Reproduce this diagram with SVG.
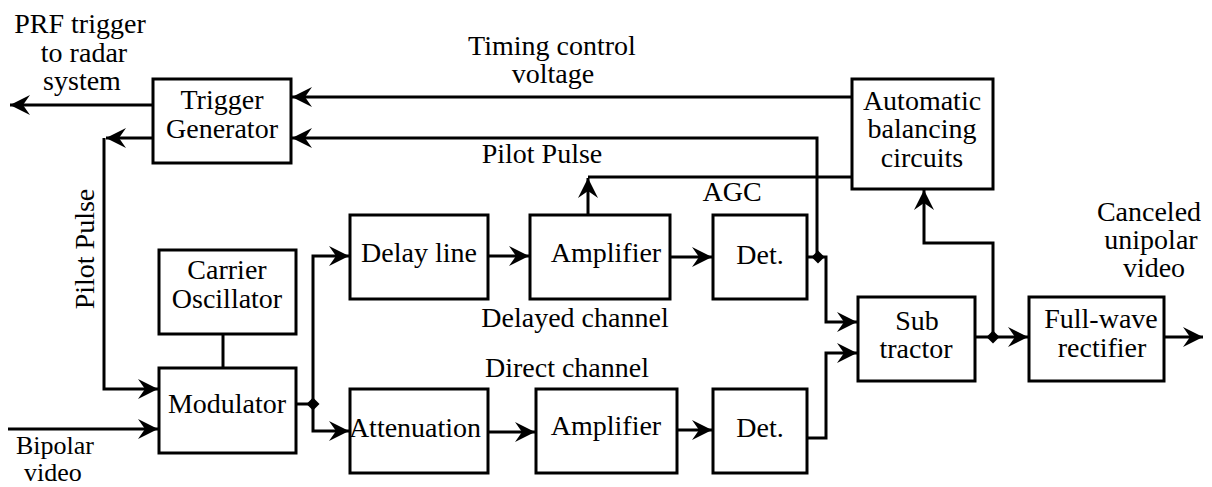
<svg xmlns="http://www.w3.org/2000/svg" width="1212" height="487" viewBox="0 0 1212 487">
<style>
text{font-family:"Liberation Serif","Times New Roman",serif;font-size:28px;fill:#000;text-anchor:middle}
.sm{font-size:26px}
.box{fill:#fff;stroke:#000;stroke-width:3}
.ln{fill:none;stroke:#000;stroke-width:3}
.arr{marker-end:url(#ah)}
</style>
<defs>
<marker id="ah" viewBox="-21 -11 22 22" refX="0" refY="0" markerWidth="22" markerHeight="22" markerUnits="userSpaceOnUse" orient="auto">
<path d="M0,0 L-20,-10 L-13,0 L-20,10 Z" fill="#000"/>
</marker>
<path id="dot" d="M0,-6.5 L6.5,0 L0,6.5 L-6.5,0 Z" fill="#000"/>
</defs>
<rect width="1212" height="487" fill="#fff"/>
<g id="connectors">
<path class="ln arr" d="M153,105 L10,105"/>
<path class="ln arr" d="M153,138 L106,138"/>
<path class="ln arr" d="M104,138 L104,389 L158,389"/>
<path class="ln arr" d="M852,97 L292,97"/>
<path class="ln arr" d="M817,257 L817,138 L292,138"/>
<path class="ln arr" d="M588,215 L588,178"/>
<path class="ln" d="M588,177 L852,177"/>
<path class="ln" d="M223,334 L223,368"/>
<path class="ln arr" d="M8,429 L158,429"/>
<path class="ln" d="M296,404 L313,404"/>
<path class="ln arr" d="M313,404 L313,256 L349,256"/>
<path class="ln arr" d="M313,404 L313,431 L349,431"/>
<path class="ln arr" d="M488,256 L529,256"/>
<path class="ln arr" d="M670,257 L712,257"/>
<path class="ln arr" d="M488,432 L535,432"/>
<path class="ln arr" d="M677,430 L712,430"/>
<path class="ln arr" d="M807,257 L826,257 L826,322 L857,322"/>
<path class="ln arr" d="M807,438 L826,438 L826,353 L857,353"/>
<path class="ln arr" d="M975,337 L1028,337"/>
<path class="ln arr" d="M993,337 L993,243 L924,243 L924,190"/>
<path class="ln arr" d="M1164,337 L1203,337"/>
<use href="#dot" x="313" y="404"/>
<use href="#dot" x="818" y="257"/>
<use href="#dot" x="993" y="337"/>
</g>
<g id="trigger-generator"><rect class="box" x="153" y="79" width="138" height="84"/><text x="222" y="109">Trigger</text><text x="222" y="138">Generator</text></g>
<g id="automatic-balancing"><rect class="box" x="852" y="79" width="141" height="110"/><text x="922" y="110">Automatic</text><text x="922" y="138">balancing</text><text x="922" y="167">circuits</text></g>
<g id="carrier-oscillator"><rect class="box" x="159" y="250" width="137" height="84"/><text x="227" y="279">Carrier</text><text x="227" y="308">Oscillator</text></g>
<g id="modulator"><rect class="box" x="159" y="368" width="137" height="85"/><text x="227" y="413">Modulator</text></g>
<g id="delay-line"><rect class="box" x="350" y="215" width="138" height="84"/><text x="419" y="262">Delay line</text></g>
<g id="amplifier-delayed"><rect class="box" x="530" y="215" width="140" height="84"/><text x="606" y="262">Amplifier</text></g>
<g id="det-delayed"><rect class="box" x="713" y="215" width="94" height="84"/><text x="760" y="264">Det.</text></g>
<g id="attenuation"><rect class="box" x="350" y="389" width="138" height="84"/><text x="415" y="437">Attenuation</text></g>
<g id="amplifier-direct"><rect class="box" x="536" y="389" width="141" height="84"/><text x="606" y="435">Amplifier</text></g>
<g id="det-direct"><rect class="box" x="713" y="389" width="94" height="84"/><text x="760" y="437">Det.</text></g>
<g id="subtractor"><rect class="box" x="858" y="297" width="117" height="84"/><text x="917" y="330">Sub</text><text x="916" y="358">tractor</text></g>
<g id="full-wave-rectifier"><rect class="box" x="1029" y="297" width="135" height="84"/><text x="1101" y="328">Full-wave</text><text x="1102" y="357">rectifier</text></g>
<g id="labels">
<text x="80" y="33">PRF trigger</text>
<text x="84" y="62">to radar</text>
<text x="82" y="90">system</text>
<text x="552" y="55">Timing control</text>
<text x="553" y="83">voltage</text>
<text x="542" y="163">Pilot Pulse</text>
<text x="732" y="201">AGC</text>
<text x="575" y="327">Delayed channel</text>
<text x="567" y="377">Direct channel</text>
<text x="1149" y="221">Canceled</text>
<text x="1151" y="249">unipolar</text>
<text x="1154" y="277">video</text>
<text class="sm" x="55" y="454">Bipolar</text>
<text class="sm" x="53" y="481">video</text>
<text transform="translate(94,249) rotate(-90)">Pilot Pulse</text>
</g>
</svg>
